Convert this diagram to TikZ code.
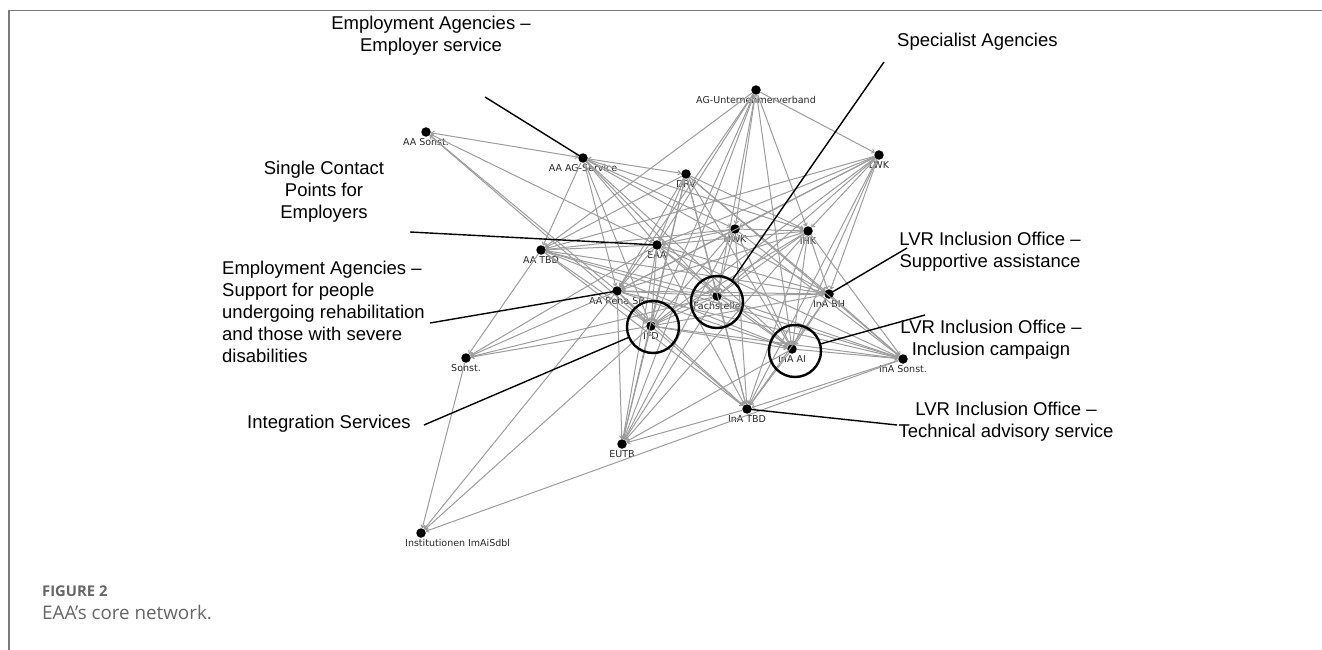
\documentclass[tikz,border=0pt]{standalone}
\usepackage{fontspec}
\setmainfont{Liberation Sans}
\newfontfamily\netfont{DejaVu Sans}
\newfontfamily\capfont{Open Sans}
\usetikzlibrary{arrows.meta}

\definecolor{framegray}{HTML}{7A7A7A}
\definecolor{edgegray}{HTML}{9C9C9C}
\definecolor{captext}{HTML}{666666}

\begin{document}
\begin{tikzpicture}[x=1pt,y=-1pt,
  dot/.style={circle,fill=black,inner sep=0pt,minimum size=9.5pt},
  lbl/.style={font=\netfont\fontsize{9.5}{11}\selectfont,text=black!85,inner sep=0pt},
  tie/.style={draw=edgegray,line width=1pt,-{To[length=3.5pt,width=5pt]}},
  tiepair/.style={draw=edgegray,line width=1pt,{To[length=3.5pt,width=5pt]}-{To[length=3.5pt,width=5pt]}},
  callout/.style={font=\fontsize{18.5}{22}\selectfont,inner sep=0pt},
  pointer/.style={draw=black,line width=1.4pt},
  ring/.style={circle,draw=black,line width=2.4pt,minimum size=52pt,inner sep=0pt},
]
\useasboundingbox (0,0) rectangle (1322,650);

% page frame
\draw[framegray,line width=1.5pt] (9,650) -- (9,10.5) -- (1322,10.5);

% caption
\node[anchor=west,font=\capfont\bfseries\fontsize{14.8}{17}\selectfont,text=captext,inner sep=0pt] (figno) at (42,591) {FIGURE 2};
\node[anchor=west,font=\capfont\fontsize{18.8}{22}\selectfont,text=captext,inner sep=0pt] (figcap) at (42,612) {EAA’s core network.};

% network actors
\node[dot,label={[lbl,label distance=1.5pt]below:AG-Unternehmerverband}] (AGU) at (756,90) {};
\node[dot,label={[lbl,label distance=1.5pt]below:AA Sonst.}] (AAS) at (426,132) {};
\node[dot,label={[lbl,label distance=1.5pt]below:AA AG-Service}] (AAG) at (583,158) {};
\node[dot,label={[lbl,label distance=1.5pt]below:DRV}] (DRV) at (686,174) {};
\node[dot,label={[lbl,label distance=1.5pt]below:LWK}] (LWK) at (879,155) {};
\node[dot,label={[lbl,label distance=1.5pt]below:HWK}] (HWK) at (735,229) {};
\node[dot,label={[lbl,label distance=1.5pt]below:IHK}] (IHK) at (808,231) {};
\node[dot,label={[lbl,label distance=1.5pt]below:EAA}] (EAA) at (657,245) {};
\node[dot,label={[lbl,label distance=1.5pt]below:AA TBD}] (AAT) at (541,250) {};
\node[dot,label={[lbl,label distance=1.5pt]below:Fachstelle}] (FS) at (717,296) {};
\node[dot,label={[lbl,label distance=1.5pt]below:InA BH}] (IBH) at (829,294) {};
\node[dot,label={[lbl,label distance=1.5pt]below:AA Reha SB}] (ARS) at (617,291) {};
\node[dot,label={[lbl,label distance=1.5pt]below:IFD}] (IFD) at (651,326) {};
\node[dot,label={[lbl,label distance=1.5pt]below:Sonst.}] (SON) at (466,358) {};
\node[dot,label={[lbl,label distance=1.5pt]below:InA AI}] (IAI) at (792,349) {};
\node[dot,label={[lbl,label distance=1.5pt]below:InA Sonst.}] (ISO) at (903,359) {};
\node[dot,label={[lbl,label distance=1.5pt]below:InA TBD}] (ITB) at (747,409) {};
\node[dot,label={[lbl,label distance=1.5pt]below:EUTB}] (EUTB) at (622,444) {};
\node[dot,label={[lbl,label distance=1.5pt,anchor=north west,xshift=-16pt]below:Institutionen ImAiSdbl}] (INS) at (421,533) {};

% ties between actors
\foreach \a/\b in {
  AGU/AAT, AGU/EAA, AGU/ARS, AGU/IFD, AGU/EUTB, AGU/FS, AGU/HWK, AGU/IHK, AGU/LWK, AGU/IAI,
  EAA/AAS, ARS/AAS, IFD/AAS,
  AAG/AAT, AAG/EAA, AAG/ARS, AAG/FS, AAG/IFD, AAG/IHK, AAG/IAI, AAG/IBH, AAG/HWK,
  DRV/AAT, DRV/EAA, DRV/IFD, DRV/FS, DRV/IBH, DRV/IAI, DRV/ISO, DRV/EUTB, DRV/ITB, DRV/IHK, DRV/ARS,
  LWK/AAT, LWK/EAA, LWK/ARS, LWK/IFD, LWK/FS, LWK/HWK, LWK/IHK, LWK/IBH, LWK/IAI, LWK/ITB,
  HWK/IHK, HWK/EAA, HWK/FS, HWK/IFD, HWK/ARS, HWK/IAI, HWK/ITB, HWK/ISO, HWK/EUTB, HWK/AAT,
  IHK/EAA, IHK/FS, IHK/IFD, IHK/IBH, IHK/IAI, IHK/ISO, IHK/ITB, IHK/EUTB, IHK/ARS,
  EAA/AAT, EAA/FS, EAA/IFD, EAA/ARS, EAA/IBH, EAA/IAI, EAA/ISO, EAA/ITB, EAA/EUTB, EAA/SON,
  AAT/FS, AAT/IFD, AAT/IBH, AAT/IAI, AAT/ISO, AAT/ITB, AAT/SON,
  FS/IFD, FS/ARS, FS/IBH, FS/IAI, FS/ISO, FS/ITB, FS/EUTB, FS/SON,
  IBH/IAI, IBH/ISO, IBH/ITB, IBH/IFD, IBH/ARS,
  ARS/IFD, ARS/SON, ARS/IAI, ARS/ISO, ARS/ITB, ARS/EUTB, ARS/INS,
  IFD/SON, IFD/IAI, IFD/ISO, IFD/ITB, IFD/EUTB, IFD/INS,
  IAI/ISO, IAI/ITB, IAI/EUTB,
  ISO/ITB, ISO/INS, SON/INS, ITB/EUTB}
  \draw[tie] (\a) -- (\b);
\draw[tiepair] (AAS) -- (AAG);
\draw[tiepair] (AAG) -- (DRV);

% highlighted actors
\node[ring] (ringFS) at (717,302) {};
\node[ring] (ringIFD) at (653,327) {};
\node[ring] (ringIAI) at (795,351) {};

% callouts
\node[callout,align=center] (tEmp) at (431,36) {Employment Agencies –\\Employer service};
\node[callout,anchor=west] (tSpec) at (897,42) {Specialist Agencies};
\node[callout,align=center] (tSCP) at (324,192) {Single Contact\\Points for\\Employers};
\node[callout,align=center] (tSup) at (990,252) {LVR Inclusion Office –\\Supportive assistance};
\node[callout,align=left,anchor=west] (tReha) at (222,312) {Employment Agencies –\\Support for people\\undergoing rehabilitation\\and those with severe\\disabilities};
\node[callout,align=center] (tCamp) at (991,340) {LVR Inclusion Office –\\Inclusion campaign};
\node[callout,anchor=west] (tInt) at (247,424) {Integration Services};
\node[callout,align=center] (tTech) at (1006,422) {LVR Inclusion Office –\\Technical advisory service};

\coordinate (pEmp) at (485,97);
\coordinate (pSpec) at (884,62);
\coordinate (pSCP) at (410,232);
\coordinate (pSup) at (907,248);
\coordinate (pReha) at (430,323);
\coordinate (pCamp) at (925,315);
\coordinate (pInt) at (424,425);
\coordinate (pTech) at (897,425);

\draw[pointer] (pEmp) -- (AAG.center);
\draw[pointer] (pSpec) -- (ringFS);
\draw[pointer] (pSCP) -- (EAA.center);
\draw[pointer] (pSup) -- (IBH.center);
\draw[pointer] (pReha) -- (ARS.center);
\draw[pointer] (pCamp) -- (ringIAI);
\draw[pointer] (pInt) -- (ringIFD);
\draw[pointer] (pTech) -- (ITB.center);
\end{tikzpicture}
\end{document}
